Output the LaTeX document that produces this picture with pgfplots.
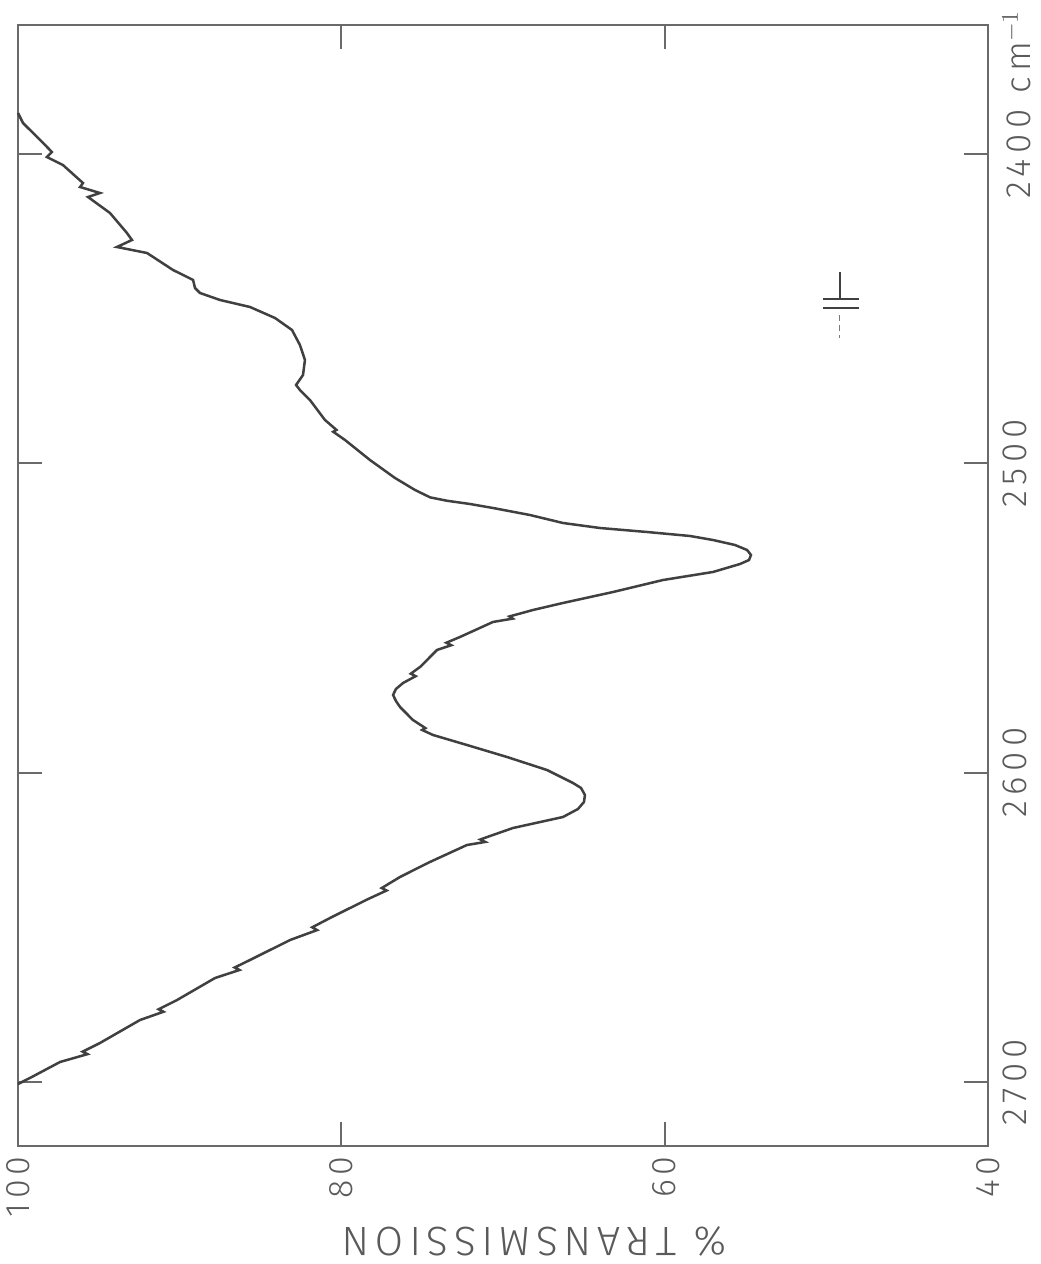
\documentclass[border=0pt]{standalone}
\usepackage{fontspec}
\setmainfont{Fira Sans}[UprightFont={* Light}]
\usepackage{pgfplots}
\pgfplotsset{compat=1.18}
\definecolor{ink}{HTML}{404040}
\definecolor{txt}{HTML}{5A5A5A}
\definecolor{frame}{HTML}{6A6A6A}
\begin{document}
\begin{tikzpicture}
\useasboundingbox (-9pt,-59pt) rectangle (511pt,573pt);
\begin{axis}[
  scale only axis, clip=false,
  width=485pt, height=560.5pt,
  xmin=40, xmax=100, x dir=reverse,
  ymin=2358.3, ymax=2720.7, y dir=reverse,
  xtick={40,60,80,100},
  ytick={2400,2500,2600,2700},
  yticklabels={{2400\rlap{\hspace{0.45em}cm$^{-1}$}},2500,2600,2700},
  tick align=inside,
  major tick length=12pt,
  axis line style={frame, line width=1pt},
  every tick/.style={frame, line width=1pt},
  /pgf/number format/assume math mode=true,
  /pgf/number format/set thousands separator={},
  xticklabel pos=lower,
  yticklabel pos=right,
  xticklabel style={rotate=90, anchor=east, font=\fontsize{17}{19}\selectfont\addfontfeatures{LetterSpace=14}, text=txt, inner sep=5pt},
  yticklabel style={rotate=90, anchor=north, font=\fontsize{17.5}{19}\selectfont\addfontfeatures{LetterSpace=16}, text=txt, inner sep=7pt},
]
\addplot[ink, line width=1.25pt] coordinates {
(100,2386.75) (99.69,2389.98) (98.45,2396.44) (97.90,2399.35) (98.21,2400.97)
(97.22,2403.56) (95.98,2409.38) (96.16,2410.67) (94.93,2412.61) (95.67,2413.90)
(94.31,2419.07) (93.26,2425.54) (92.95,2427.80) (93.88,2430.07) (92.02,2432.00)
(90.41,2437.50) (89.17,2440.73) (89.05,2443.32) (88.74,2444.94) (87.50,2447.20)
(85.65,2449.46) (84.10,2453.02) (83.05,2456.90) (82.56,2461.75) (82.25,2466.60)
(82.37,2471.45) (82.80,2474.68) (82.56,2476.30) (81.94,2479.53) (81.01,2485.99)
(80.3,2489.2) (80.5,2489.8) (79.77,2492.46) (78.23,2498.92) (76.68,2504.74) (75.44,2508.62) (74.51,2511.00)
(73.46,2512.10) (72.04,2513.15) (70.62,2514.44) (68.33,2516.71) (66.29,2519.29)
(64.00,2520.91) (61.09,2522.20) (58.43,2523.49) (57.01,2524.79) (55.65,2526.40)
(54.90,2528.02) (54.66,2529.64) (54.78,2531.26) (55.34,2532.55) (57.01,2535.13)
(60.10,2537.72) (63.19,2541.60) (66.29,2545.15) (68.14,2547.41) (69.6,2549.5) (69.4,2550.2) (70.62,2551.29)
(72.66,2556.14) (73.5,2558.0) (73.2,2558.8) (74.08,2560.34) (75.13,2565.84) (75.7,2568.0) (75.4,2568.8) (76.18,2571.01) (76.62,2572.95)
(76.80,2574.89) (76.62,2576.83) (76.37,2578.77)
(75.57,2582.97) (74.8,2585.6) (75.0,2586.2) (74.33,2587.82) (72.23,2591.06) (69.75,2594.94) (67.28,2599.14)
(65.67,2603.34) (65.17,2604.96) (64.93,2607.23) (64.99,2609.49) (65.36,2611.75)
(66.29,2614.34) (69.38,2617.89) (70.80,2620.48) (71.4,2621.6) (71.1,2622.4) (72.23,2623.39) (74.52,2628.88)
(76.37,2633.73) (77.5,2637.3) (77.2,2638.1) (78.47,2641.17) (80.70,2646.99) (81.8,2650.0) (81.5,2650.9) (83.17,2654.10) (85.65,2660.57)
(86.6,2663.0) (86.3,2663.8) (87.81,2666.38) (90.16,2673.50) (91.3,2676.5) (91.0,2677.3) (92.45,2679.96) (94.93,2687.40)
(96.0,2690.2) (95.7,2691.0) (97.40,2693.54)
(99.26,2698.71) (100,2700.65)
};
% resolution marker
\draw[ink, line width=1pt] (axis cs:49.18,2438.2) -- (axis cs:49.18,2446.6);
\draw[ink, line width=1pt] (axis cs:50.23,2446.9) -- (axis cs:48.0,2446.9);
\draw[ink, line width=1pt] (axis cs:50.23,2449.8) -- (axis cs:48.0,2449.8);
\draw[ink!70, line width=0.6pt, dash pattern=on 3pt off 2pt] (axis cs:49.18,2452.1) -- (axis cs:49.18,2459.5);
\node[rotate=180, text=txt, font=\fontsize{20.5}{22}\selectfont\addfontfeatures{LetterSpace=14}] at ([yshift=-47.5pt]axis description cs:0.532,0) {\% TRANSMISSION};
\end{axis}
\end{tikzpicture}
\end{document}
